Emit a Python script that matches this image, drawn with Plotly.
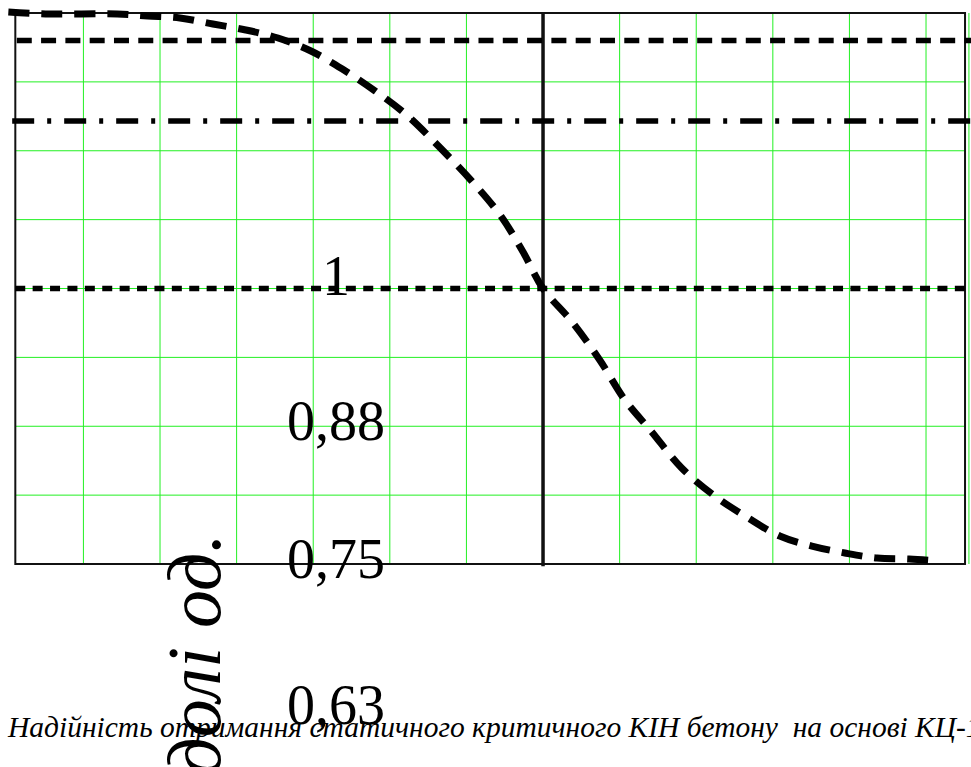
import plotly.graph_objects as go

# ---- data ----
curve_x = [-6.98, -6.44, -5.56, -5.16, -4.74, -4.31, -3.88, -3.46, -3.03, -2.62, -2.19,
           -1.78, -1.34, -0.93, -0.56, -0.26, 0.0, 0.38, 0.74, 1.07, 1.41, 1.81, 2.26,
           2.66, 3.09, 3.51, 3.94, 4.36, 4.78, 5.14]
curve_y = [1.2509, 1.2491, 1.2491, 1.2473, 1.2455, 1.2400, 1.2346, 1.2273, 1.2155, 1.1992,
           1.1792, 1.1574, 1.1275, 1.0975, 1.0667, 1.0331, 1.0, 0.9696, 0.9351, 0.8988,
           0.8707, 0.8371, 0.8108, 0.7926, 0.7754, 0.7663, 0.7600, 0.7554, 0.7545, 0.7527]

level_dash = 1.225      # dashed horizontal line
level_dashdot = 1.152   # dash-dot horizontal line
level_dot = 1.0         # dotted horizontal line
level_x = [-6.89, 5.6]

y_tick_vals = [1.0, 0.875, 0.75, 0.625]
y_tick_text = ["1", "0,88", "0,75", "0,63"]
y_tick_shift = [13, 5, 5, -3]

x_grid = [-6, -5, -4, -3, -2, -1, 1, 2, 3, 4, 5, 5.56]
y_grid = [0.8125, 0.875, 0.9375, 1.0, 1.0625, 1.125, 1.1875]

frame_x = [-6.889, 5.509]
frame_y = [0.75, 1.25]

y_label = "долі од."
caption = "Надійність отримання статичного критичного КІН бетону  на основі КЦ-1"

GREEN = "#22f022"

fig = go.Figure()

fig.add_trace(go.Scatter(x=level_x, y=[level_dot, level_dot], mode="lines",
                         line=dict(color="black", width=5.5, dash="10px,7.4px"),
                         hoverinfo="skip"))
fig.add_trace(go.Scatter(x=[-6.93, 5.6], y=[level_dashdot, level_dashdot], mode="lines",
                         line=dict(color="black", width=5.5, dash="22px,13px,4px,13px"),
                         hoverinfo="skip"))
fig.add_trace(go.Scatter(x=[-6.87, 5.6], y=[level_dash, level_dash], mode="lines",
                         line=dict(color="black", width=5.5, dash="15px,9.3px"),
                         hoverinfo="skip"))
fig.add_trace(go.Scatter(x=curve_x, y=curve_y, mode="lines",
                         line=dict(color="black", width=7, dash="21px,12px", shape="spline"),
                         hoverinfo="skip"))

shapes = []
for gx in x_grid:
    shapes.append(dict(type="line", xref="x", yref="y", x0=gx, x1=gx, y0=frame_y[0], y1=frame_y[1],
                       line=dict(color=GREEN, width=1), layer="below"))
for gy in y_grid:
    shapes.append(dict(type="line", xref="x", yref="y", x0=frame_x[0], x1=frame_x[1], y0=gy, y1=gy,
                       line=dict(color=GREEN, width=1), layer="below"))
shapes.append(dict(type="rect", xref="x", yref="y", x0=frame_x[0], x1=frame_x[1],
                   y0=frame_y[0], y1=frame_y[1], line=dict(color="#111111", width=2), layer="below"))
shapes.append(dict(type="line", xref="x", yref="y", x0=0, x1=0, y0=frame_y[0] - 0.002, y1=frame_y[1] + 0.001,
                   line=dict(color="#111111", width=3.5), layer="below"))

annotations = []
for v, t, s in zip(y_tick_vals, y_tick_text, y_tick_shift):
    annotations.append(dict(x=-2.70, y=v, xref="x", yref="y", text=t, showarrow=False,
                            xanchor="center", yanchor="middle", yshift=s,
                            font=dict(family="Liberation Serif", size=56, color="black")))
annotations.append(dict(x=-4.56, y=0.6674, xref="x", yref="y", text=y_label, showarrow=False,
                        textangle=-90, xanchor="center", yanchor="middle",
                        font=dict(family="Liberation Serif", size=76, color="black", style="italic")))
annotations.append(dict(x=-7.02, y=0.602, xref="x", yref="y", text=caption, showarrow=False,
                        xanchor="left", yanchor="middle",
                        font=dict(family="Liberation Serif", size=29.5, color="black", style="italic")))

fig.update_layout(
    width=971, height=767,
    margin=dict(l=0, r=0, t=0, b=0),
    paper_bgcolor="white", plot_bgcolor="white",
    showlegend=False,
    xaxis=dict(range=[-7.089, 5.587], visible=False, showgrid=False, zeroline=False),
    yaxis=dict(range=[0.5658, 1.2618], visible=False, showgrid=False, zeroline=False),
    shapes=shapes, annotations=annotations,
)

fig.write_html("out.html", config={"displayModeBar": False},
               post_script="document.body.style.margin='0px';")
